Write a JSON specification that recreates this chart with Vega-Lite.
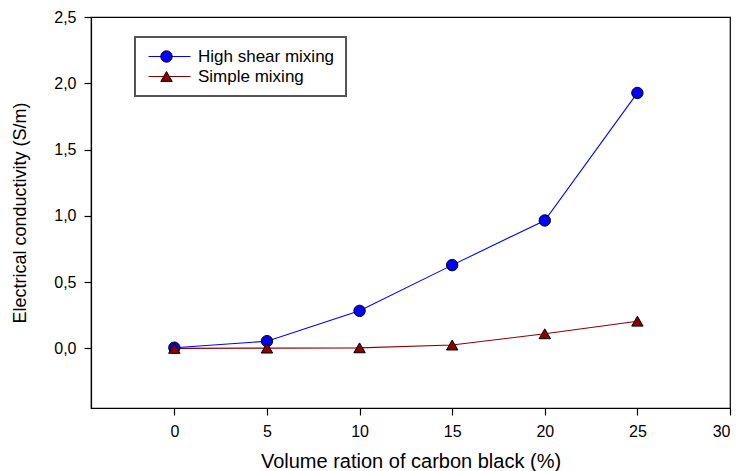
{
  "$schema": "https://vega.github.io/schema/vega-lite/v6.json",
  "width": 639,
  "height": 391,
  "autosize": "none",
  "padding": {"left": 91, "top": 17, "right": 9, "bottom": 63},
  "background": "white",
  "config": {
    "view": {"stroke": "black", "strokeWidth": 1.2},
    "font": "Liberation Sans",
    "axis": {
      "grid": false,
      "domainColor": "black",
      "domainWidth": 1.2,
      "tickColor": "black",
      "tickWidth": 1.2,
      "tickSize": 7,
      "labelColor": "black",
      "labelFont": "Liberation Sans",
      "labelFontSize": 16,
      "titleColor": "black",
      "titleFont": "Liberation Sans",
      "titleFontWeight": "normal"
    }
  },
  "data": {
    "values": [
      {"vol": 0, "cond": 0.005, "series": "High shear mixing"},
      {"vol": 5, "cond": 0.054, "series": "High shear mixing"},
      {"vol": 10, "cond": 0.283, "series": "High shear mixing"},
      {"vol": 15, "cond": 0.628, "series": "High shear mixing"},
      {"vol": 20, "cond": 0.965, "series": "High shear mixing"},
      {"vol": 25, "cond": 1.927, "series": "High shear mixing"},
      {"vol": 0, "cond": 0.0, "series": "Simple mixing"},
      {"vol": 5, "cond": 0.002, "series": "Simple mixing"},
      {"vol": 10, "cond": 0.004, "series": "Simple mixing"},
      {"vol": 15, "cond": 0.025, "series": "Simple mixing"},
      {"vol": 20, "cond": 0.11, "series": "Simple mixing"},
      {"vol": 25, "cond": 0.205, "series": "Simple mixing"}
    ]
  },
  "encoding": {
    "x": {
      "field": "vol",
      "type": "quantitative",
      "scale": {"domain": [-4.5, 30], "nice": false, "zero": false},
      "axis": {"values": [0, 5, 10, 15, 20, 25, 30], "title": "Volume ration of carbon black (%)", "titleFontSize": 20, "titlePadding": 12, "labelPadding": 8}
    },
    "y": {
      "field": "cond",
      "type": "quantitative",
      "scale": {"domain": [-0.45, 2.5], "nice": false, "zero": false},
      "axis": {"values": [0, 0.5, 1, 1.5, 2, 2.5], "labelExpr": "replace(format(datum.value, '.1f'), '.', ',')", "title": "Electrical conductivity (S/m)", "titleFontSize": 18, "titlePadding": 24, "labelPadding": 8}
    }
  },
  "layer": [
    {
      "mark": {"type": "line", "strokeWidth": 1.1},
      "encoding": {
        "stroke": {
          "field": "series",
          "type": "nominal",
          "scale": {"domain": ["High shear mixing", "Simple mixing"], "range": ["#0000FF", "#8B0000"]},
          "legend": {
            "orient": "none",
            "legendX": 44,
            "legendY": 20,
            "title": null,
            "symbolType": "M-4,0H4",
            "symbolSize": 110,
            "symbolOffset": 15,
            "symbolStrokeWidth": 1.1,
            "labelFont": "Liberation Sans",
            "labelFontSize": 17,
            "labelColor": "black",
            "labelOffset": 20,
            "padding": 11,
            "rowPadding": 2,
            "strokeColor": "#555555",
            "encode": {"legend": {"update": {"strokeWidth": {"value": 2}}}}
          }
        }
      }
    },
    {
      "mark": {"type": "point", "filled": true, "size": 130, "stroke": "black", "strokeWidth": 1, "opacity": 1},
      "encoding": {
        "shape": {
          "field": "series",
          "type": "nominal",
          "scale": {"range": ["circle", "triangle-up"]},
          "legend": {
            "orient": "none",
            "legendX": 56,
            "legendY": 20,
            "title": null,
            "symbolSize": 130,
            "symbolStrokeWidth": 1,
            "symbolOpacity": 1,
            "labelExpr": "''",
            "labelFontSize": 17,
            "padding": 11,
            "rowPadding": 2,
            "encode": {"symbols": {"update": {"stroke": {"value": "black"}, "strokeWidth": {"value": 1}}}}
          }
        },
        "fill": {
          "field": "series",
          "type": "nominal",
          "scale": {"range": ["#0000FF", "#8B0000"]},
          "legend": {
            "orient": "none",
            "legendX": 56,
            "legendY": 20,
            "title": null,
            "symbolSize": 130,
            "symbolStrokeWidth": 1,
            "symbolOpacity": 1,
            "labelExpr": "''",
            "labelFontSize": 17,
            "padding": 11,
            "rowPadding": 2,
            "encode": {"symbols": {"update": {"stroke": {"value": "black"}, "strokeWidth": {"value": 1}}}}
          }
        }
      }
    }
  ]
}
